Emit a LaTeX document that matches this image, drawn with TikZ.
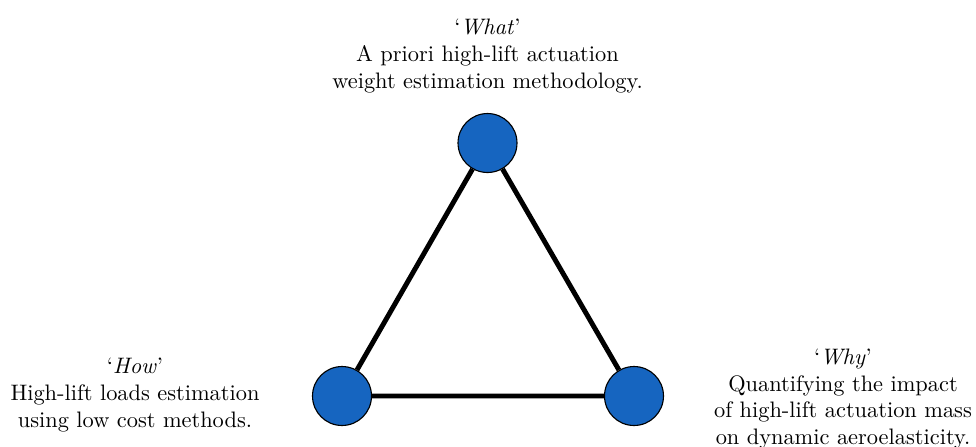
\documentclass[tikz,border=0pt]{standalone}
\usepackage{amssymb,amsmath}

\definecolor{vertexblue}{RGB}{22,101,192}

\begin{document}
\begin{tikzpicture}[x=0.0157cm,y=-0.0157cm,
    vertex/.style={circle,draw=black,line width=0.5pt,fill=vertexblue,minimum size=0.926cm,inner sep=0pt},
    caption/.style={align=center,font=\normalsize}]
  \useasboundingbox (0,0) rectangle (976,446);
  \foreach \p/\n in {(487.5,143)/what,(342,396)/how,(634,396)/why}
    {\node[vertex] (\n) at \p {};}
  \draw[line width=2.2pt] (what)--(how)--(why)--(what);
  \node[caption] (whattext) at (487.5,56) {`\textit{What}'\\A priori high-lift actuation\\weight estimation methodology.};
  \node[caption] (howtext) at (135,395) {`\textit{How}'\\High-lift loads estimation\\using low cost methods.};
  \node[caption] (whytext) at (843,399) {`\textit{Why}'\\Quantifying the impact\\of high-lift actuation mass\\on dynamic aeroelasticity.};
\end{tikzpicture}
\end{document}
